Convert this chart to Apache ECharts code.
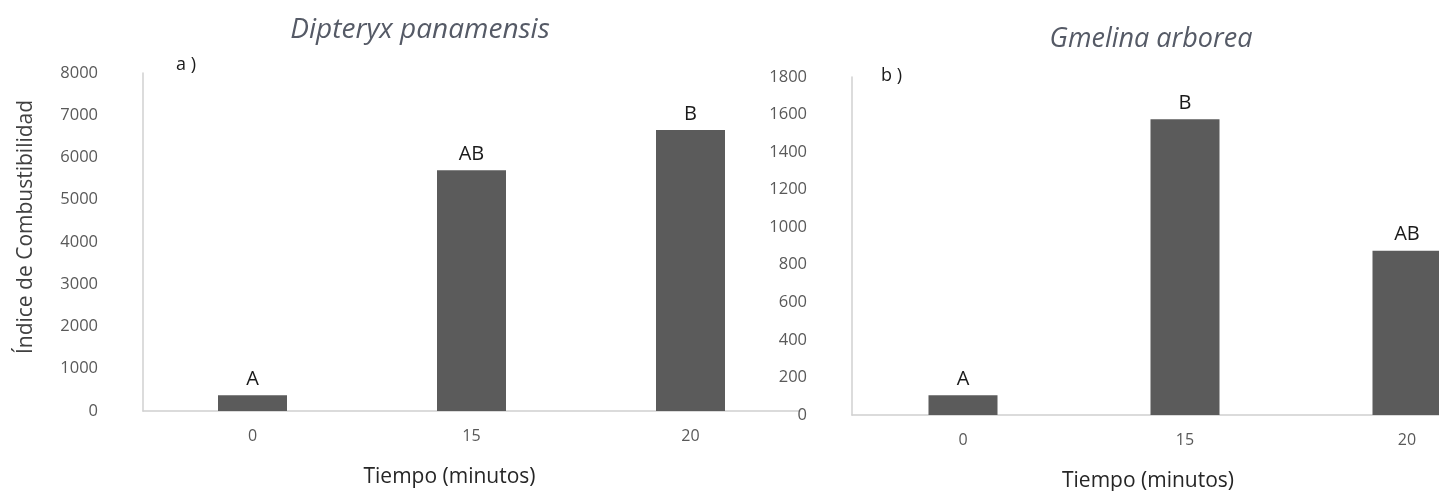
<!DOCTYPE html>
<html><head><meta charset="utf-8">
<script src="https://cdn.jsdelivr.net/npm/echarts@6/dist/echarts.min.js"></script>
<style>html,body{margin:0;padding:0;background:#fff}#c{width:1439px;height:491px}</style>
</head><body><div id="c"></div>
<script>
const categories = ['0', '15', '20'];
const dipteryxValues = [370, 5700, 6650];
const dipteryxLetters = ['A', 'AB', 'B'];
const gmelinaValues = [105, 1575, 875];
const gmelinaLetters = ['A', 'B', 'AB'];
const leftTicks = {min: 0, max: 8000, interval: 1000};
const rightTicks = {min: 0, max: 1800, interval: 200};

const FONT = 'Open Sans';
const chart = echarts.init(document.getElementById('c'));
const axisLine = {show: true, lineStyle: {color: '#d0d0d0', width: 1.5}};
function xAxis(gi, padRight) {
  return {type: 'category', gridIndex: gi, data: categories,
    axisLine: axisLine, axisTick: {show: false},
    axisLabel: {color: '#595959', fontSize: 16, fontFamily: FONT, margin: 17},
    name: 'Tiempo (minutos)', nameLocation: 'middle', nameGap: 56,
    nameTextStyle: {color: '#262626', fontSize: 21, fontFamily: FONT, padding: [0, padRight, 0, 0]}};
}
function yAxis(gi, t, name) {
  return {type: 'value', gridIndex: gi, min: t.min, max: t.max, interval: t.interval,
    axisLine: axisLine, axisTick: {show: false}, splitLine: {show: false},
    axisLabel: {color: '#595959', fontSize: 16.5, fontFamily: FONT, margin: 45,
      formatter: v => String(v)},
    name: name, nameLocation: 'middle', nameGap: 106, nameRotate: 90,
    nameTextStyle: {color: '#404040', fontSize: 21, fontFamily: FONT, padding: [0, 0, 0, 30]}};
}
function barSeries(gi, vals, letters) {
  return {type: 'bar', xAxisIndex: gi, yAxisIndex: gi, data: vals, barWidth: 69,
    itemStyle: {color: '#5b5b5b'},
    label: {show: true, position: 'top', distance: 6, fontSize: 20, fontFamily: FONT,
      color: '#1a1a1a', formatter: p => letters[p.dataIndex]}};
}
chart.setOption({
  animation: false,
  title: [
    {text: 'Dipteryx panamensis', left: 415, top: 11, textAlign: 'center',
     textStyle: {fontStyle: 'italic', fontWeight: 'normal', fontSize: 28, color: '#555a66', fontFamily: FONT}},
    {text: 'Gmelina arborea', left: 1146, top: 21, textAlign: 'center',
     textStyle: {fontStyle: 'italic', fontWeight: 'normal', fontSize: 27, color: '#555a66', fontFamily: FONT}},
    {text: 'a )', left: 171, top: 51, textStyle: {fontWeight: 'normal', fontSize: 18, color: '#1a1a1a', fontFamily: FONT}},
    {text: 'b )', left: 876, top: 62, textStyle: {fontWeight: 'normal', fontSize: 18, color: '#1a1a1a', fontFamily: FONT}}
  ],
  grid: [
    {left: 143, top: 73, width: 657, height: 338, outerBoundsMode: 'none', containLabel: false},
    {left: 852, top: 77, width: 666, height: 338, outerBoundsMode: 'none', containLabel: false}
  ],
  xAxis: [xAxis(0, 44), xAxis(1, 74)],
  yAxis: [yAxis(0, leftTicks, 'Índice de Combustibilidad'), yAxis(1, rightTicks, '')],
  series: [barSeries(0, dipteryxValues, dipteryxLetters), barSeries(1, gmelinaValues, gmelinaLetters)]
});
</script></body></html>
